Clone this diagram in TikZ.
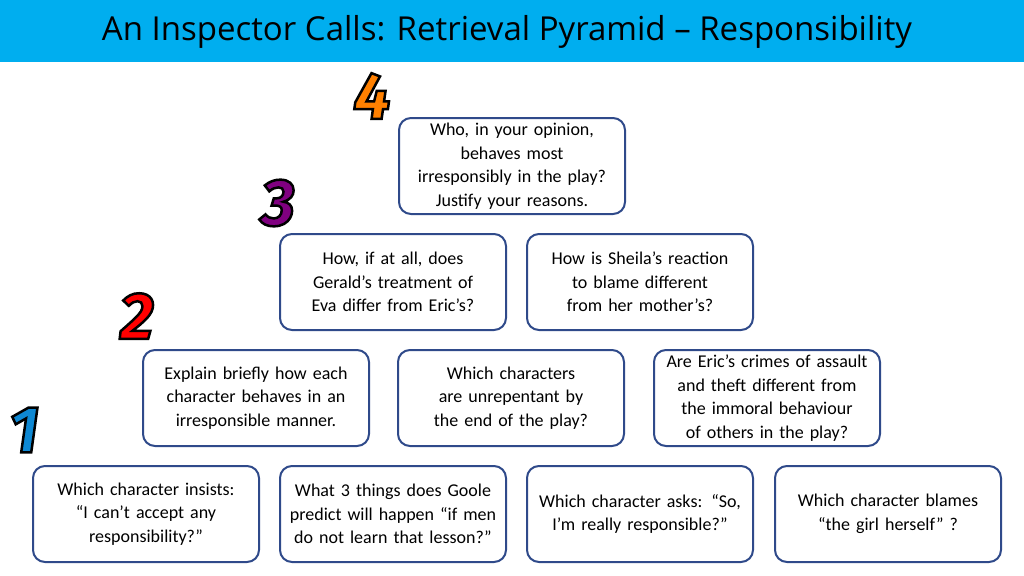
\documentclass[tikz,border=0pt]{standalone}
\usepackage{fontspec}
\setmainfont{Carlito}
\newfontfamily\titlefont{Open Sans}
\newfontfamily\numfont{Fira Sans}
\definecolor{bar}{HTML}{00AEEF}
\definecolor{edge}{HTML}{2F4A8A}
\newcommand{\outl}[2]{{\color{#1}\special{pdf:code q 0 G 2 Tr 2.5 w}#2\special{pdf:code Q}}}
\newcommand{\qfont}{\fontsize{18}{23.5}\selectfont\hyphenpenalty=10000 \exhyphenpenalty=10000 }
\begin{document}
\begin{tikzpicture}[x=1pt,y=-1pt,
 q/.style={draw=edge,line width=2pt,rounded corners=12pt,minimum width=226pt,minimum height=96pt,text width=216pt,align=center,font=\qfont,inner sep=4pt},
 nm/.style={font=\numfont\bfseries\itshape\fontsize{66}{66}\selectfont}]
\useasboundingbox (0,0) rectangle (1024,575);
\fill[bar] (0,0) rectangle (1024,62);
\node[font=\titlefont\fontsize{33}{36}\selectfont] (title) at (507,32) {An Inspector Calls: Retrieval Pyramid – Responsibility};
\node[q] (a) at (512,166) {Who, in your opinion, behaves most irresponsibly in the play? Justify your reasons.};
\node[q] (b1) at (393,282) {How, if at all, does Gerald’s treatment of Eva differ from Eric’s?};
\node[q] (b2) at (640,282) {How is Sheila’s reaction to blame different from her mother’s?};
\node[q] (c1) at (256,398) {Explain briefly how each character behaves in an irresponsible manner.};
\node[q] (c2) at (511,398) {Which characters are unrepentant by the end of the play?};
\node[q] (c3) at (767,398) {Are Eric’s crimes of assault and theft different from the immoral behaviour of others in the play?};
\node[q] (d1) at (146,514) {Which character insists:\\ “I can’t accept any responsibility?”};
\node[q] (d2) at (393,514) {What 3 things does Goole predict will happen “if men do not learn that lesson?”};
\node[q] (d3) at (640,514) {Which character asks: “So, I’m really responsible?”};
\node[q] (d4) at (888,514) {Which character blames\\ “the girl herself” ?};
\node[nm] (n4) at (372,96) {\outl{orange}{4}};
\node[nm] (n3) at (278,203) {\outl{violet}{3}};
\node[nm] (n2) at (137,316) {\outl{red}{2}};
\node[nm] (n1) at (24,430) {\outl{cyan!70!blue}{1}};
\end{tikzpicture}
\end{document}
